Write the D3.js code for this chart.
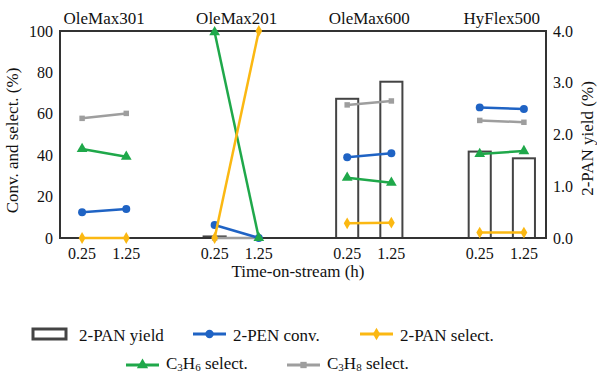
<!DOCTYPE html>
<html>
<head>
<meta charset="utf-8">
<script src="https://cdn.jsdelivr.net/npm/d3@7"></script>
<style>
  body { margin: 0; background: #fff; }
  text { font-family: "Liberation Serif", "Times New Roman", serif; fill: #111; }
</style>
</head>
<body>
<div id="chart"></div>
<script>
// catalysts and time-on-stream points
const groups = ["OleMax301", "OleMax201", "OleMax600", "HyFlex500"];
const tosLabels = ["0.25", "1.25"];
// x slot of each point on a 0..22 scale (two per catalyst)
const slots = [[1, 3], [7, 9], [13, 15], [19, 21]];

// 2-PAN yield (%), right axis
const panYield = [[0, 0], [0.03, 0], [2.69, 3.02], [1.67, 1.54]];
// left axis series (%)
const penConv = [[12.4, 14.0], [6.3, 0], [39.0, 40.9], [63.1, 62.3]];
const panSelect = [[0, 0], [0, 100], [7.1, 7.4], [2.6, 2.6]];
const c3h6Select = [[43.0, 39.3], [99.4, 0], [29.1, 26.7], [40.6, 42.0]];
const c3h8Select = [[57.8, 60.2], [0, 0], [64.3, 66.2], [56.8, 55.9]];

const leftTicks = [0, 20, 40, 60, 80, 100];
const rightTicks = [0, 1, 2, 3, 4];

const colors = { conv: "#1f63c4", pan: "#fbb812", c3h6: "#1fa84a", c3h8: "#9e9e9e", bar: "#444" };

const W = 597, H = 373;
const margin = { top: 31, right: 51, bottom: 135, left: 60 };
const width = W - margin.left - margin.right, height = H - margin.top - margin.bottom;

const svg = d3.select("#chart").append("svg").attr("width", W).attr("height", H);
const g = svg.append("g").attr("transform", `translate(${margin.left},${margin.top})`);

const x = d3.scaleLinear().domain([0, 22]).range([0, width]);
const yL = d3.scaleLinear().domain([0, 100]).range([height, 0]);
const yR = d3.scaleLinear().domain([0, 4]).range([height, 0]);
const unit = x(1) - x(0);

// bars
groups.forEach((grp, i) => {
  slots[i].forEach((s, j) => {
    const v = panYield[i][j];
    if (v <= 0) return;
    g.append("rect")
      .attr("x", x(s) - unit / 2).attr("width", unit)
      .attr("y", yR(v)).attr("height", Math.max(0.5, yR(0) - yR(v)))
      .attr("fill", "none").attr("stroke", colors.bar).attr("stroke-width", 2);
  });
});

// frame
g.append("rect").attr("width", width).attr("height", height)
  .attr("fill", "none").attr("stroke", "#333").attr("stroke-width", 2);

// axes (labels only, no ticks)
const axL = g.append("g").call(d3.axisLeft(yL).tickValues(leftTicks).tickSize(0).tickPadding(7));
axL.select(".domain").remove();
axL.selectAll("text").style("font-size", "16px").style("font-family", "Liberation Serif");
const axR = g.append("g").attr("transform", `translate(${width},0)`)
  .call(d3.axisRight(yR).tickValues(rightTicks).tickFormat(d3.format(".1f")).tickSize(0).tickPadding(7));
axR.select(".domain").remove();
axR.selectAll("text").style("font-size", "16px").style("font-family", "Liberation Serif");

// x tick labels and group titles
groups.forEach((grp, i) => {
  slots[i].forEach((s, j) => {
    g.append("text").attr("x", x(s)).attr("y", height + 21)
      .attr("text-anchor", "middle").attr("font-size", "16px").text(tosLabels[j]);
  });
  g.append("text").attr("x", (x(slots[i][0]) + x(slots[i][1])) / 2).attr("y", -7)
    .attr("text-anchor", "middle").attr("font-size", "17px").text(grp);
});

// axis titles
g.append("text").attr("x", width / 2 - 5).attr("y", height + 39)
  .attr("text-anchor", "middle").attr("font-size", "17px").text("Time-on-stream (h)");
g.append("text").attr("transform", `translate(-42,${height / 2 + 6}) rotate(-90)`)
  .attr("text-anchor", "middle").attr("font-size", "17px").text("Conv. and select. (%)");
g.append("text").attr("transform", `translate(${width + 47},${height / 2 + 4}) rotate(-90)`)
  .attr("text-anchor", "middle").attr("font-size", "17px").text("2-PAN yield (%)");

// series
const series = [
  { data: c3h8Select, color: colors.c3h8, shape: d3.symbolSquare, size: 30 },
  { data: penConv, color: colors.conv, shape: d3.symbolCircle, size: 50 },
  { data: c3h6Select, color: colors.c3h6, shape: d3.symbolTriangle, size: 50 },
  { data: panSelect, color: colors.pan, shape: d3.symbolDiamond, size: 40 }
];
const line = d3.line().x(d => x(d[0])).y(d => yL(d[1]));
series.forEach(s => {
  groups.forEach((grp, i) => {
    const pts = slots[i].map((sl, j) => [sl, s.data[i][j]]);
    g.append("path").datum(pts).attr("d", line)
      .attr("fill", "none").attr("stroke", s.color).attr("stroke-width", 2.5);
    g.selectAll(null).data(pts).enter().append("path")
      .attr("transform", d => `translate(${x(d[0])},${yL(d[1])})`)
      .attr("d", d3.symbol().type(s.shape).size(s.size))
      .attr("fill", s.color);
  });
});

// legend
const legend = svg.append("g");
const legendItems = [
  { label: "2-PAN yield", type: "bar", x: 32, y: 334, dy: 7 },
  { label: "2-PEN conv.", color: colors.conv, shape: d3.symbolCircle, size: 55, x: 193, y: 334, dy: 7 },
  { label: "2-PAN select.", color: colors.pan, shape: d3.symbolDiamond, size: 45, x: 360, y: 334, dy: 7 },
  { label: ["C", "3", "H", "6", " select."], color: colors.c3h6, shape: d3.symbolTriangle, size: 55, x: 126, y: 365, dy: 4 },
  { label: ["C", "3", "H", "8", " select."], color: colors.c3h8, shape: d3.symbolSquare, size: 40, x: 287, y: 365, dy: 4 }
];
legendItems.forEach(it => {
  const lg = legend.append("g").attr("transform", `translate(${it.x},${it.y})`);
  if (it.type === "bar") {
    lg.append("rect").attr("x", 1).attr("y", -5).attr("width", 33).attr("height", 10)
      .attr("fill", "none").attr("stroke", colors.bar).attr("stroke-width", 3);
  } else {
    lg.append("line").attr("x1", 0).attr("x2", 33).attr("stroke", it.color).attr("stroke-width", 3);
    lg.append("path").attr("transform", "translate(16.5,0)")
      .attr("d", d3.symbol().type(it.shape).size(it.size)).attr("fill", it.color);
  }
  const t = lg.append("text").attr("x", it.type === "bar" ? 47 : 40).attr("y", it.dy).attr("font-size", "17px");
  if (Array.isArray(it.label)) {
    it.label.forEach((p, k) => {
      const sp = t.append("tspan").text(p);
      if (k === 1 || k === 3) sp.attr("font-size", "11px").attr("dy", 2);
      if (k === 2 || k === 4) sp.attr("dy", -2);
    });
  } else {
    t.text(it.label);
  }
});
</script>
</body>
</html>
